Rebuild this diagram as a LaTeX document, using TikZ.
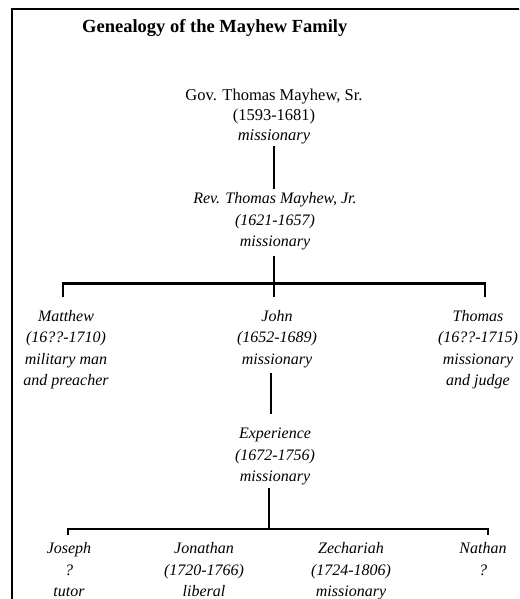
\documentclass[tikz,border=0pt]{standalone}
\usepackage{fontspec}
\setmainfont{Liberation Serif}
\begin{document}
\begin{tikzpicture}[x=1pt,y=-1pt,
  person/.style={anchor=north,align=center,inner sep=0pt,font=\fontsize{16}{21.5}\selectfont\itshape},
  conn/.style={line width=2.4pt},
  frame/.style={line width=2pt}]
\path[use as bounding box] (0,0) rectangle (519,599);
\clip (0,0) rectangle (519,599);
\fill[white] (0,0) rectangle (519,599);
\draw[frame] (11.5,700) -- (11.5,9.5) -- (600,9.5);
\node[anchor=base west,inner sep=0pt,font=\fontsize{18.5}{22}\selectfont\bfseries] (title) at (82,33) {Genealogy of the Mayhew Family};
% generation 1
\node[anchor=north,align=center,inner sep=0pt,font=\fontsize{16.5}{20}\selectfont] (gov) at (274,86)
  {\strut Gov. Thomas Mayhew, Sr.\\ \strut(1593-1681)\\ \strut\textit{missionary}};
% generation 2
\node[person] (rev) at (275,188.5) {\strut Rev. Thomas Mayhew, Jr.\\ \strut(1621-1657)\\ \strut missionary};
% generation 3
\node[person] (matthew) at (66,306) {\strut Matthew\\ \strut(16??-1710)\\ \strut military man\\ \strut and preacher};
\node[person] (john) at (277,306) {\strut John\\ \strut(1652-1689)\\ \strut missionary};
\node[person] (thomas) at (478,306) {\strut Thomas\\ \strut(16??-1715)\\ \strut missionary\\ \strut and judge};
% generation 4
\node[person] (exp) at (275,423.5) {\strut Experience\\ \strut(1672-1756)\\ \strut missionary};
% generation 5
\node[person] (joseph) at (69,538.5) {\strut Joseph\\ \strut ?\\ \strut tutor};
\node[person] (jonathan) at (204,538.5) {\strut Jonathan\\ \strut(1720-1766)\\ \strut liberal};
\node[person] (zechariah) at (351,538.5) {\strut Zechariah\\ \strut(1724-1806)\\ \strut missionary};
\node[person] (nathan) at (483,538.5) {\strut Nathan\\ \strut ?\\ \strut };
% connectors
\coordinate (bar1) at (274,283.3);
\coordinate (bar2) at (269,529);
\draw[conn] (gov.south) -- (gov.south |- rev.north);
\draw[conn] ([xshift=-1pt,yshift=-2.5pt]rev.south) -- ([xshift=-3pt,yshift=9pt]john.north);
\draw[conn] ([xshift=-3pt,yshift=9pt]matthew.north) |- (bar1) -| ([xshift=7pt,yshift=9pt]thomas.north);
\draw[conn] ([xshift=-6pt,yshift=-2.5pt]john.south) -- ([xshift=-4pt,yshift=9.5pt]exp.north);
\draw[conn] ([xshift=-6pt]exp.south) -- (bar2);
\draw[conn] ([xshift=-1pt,yshift=4pt]joseph.north) |- (bar2) -| ([xshift=5pt,yshift=4pt]nathan.north);
\end{tikzpicture}
\end{document}
